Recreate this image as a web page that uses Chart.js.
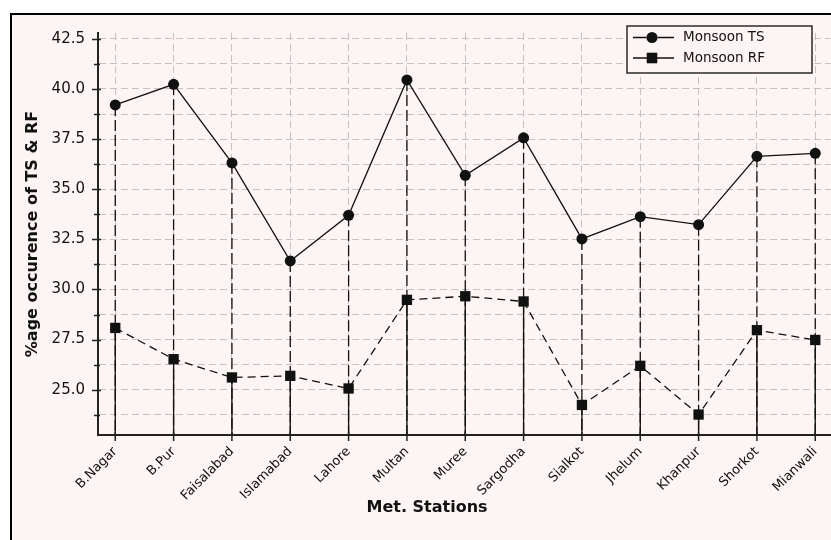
<!DOCTYPE html>
<html>
<head>
<meta charset="utf-8">
<script src="https://cdn.jsdelivr.net/npm/chart.js@4.4.1/dist/chart.umd.min.js"></script>
<style>
  html, body { margin: 0; padding: 0; background: #ffffff; }
  canvas { display: block; }
</style>
</head>
<body>
<canvas id="chart" width="831" height="540"></canvas>
<script>
// Meteorological stations along the x axis
const stations = ['B.Nagar', 'B.Pur', 'Faisalabad', 'Islamabad', 'Lahore', 'Multan', 'Muree',
                  'Sargodha', 'Sialkot', 'Jhelum', 'Khanpur', 'Shorkot', 'Mianwali'];

// Percentage occurrence during the monsoon season
const monsoonTS = [39.20, 40.23, 36.31, 31.42, 33.70, 40.45, 35.69, 37.56, 32.52, 33.63, 33.23, 36.64, 36.79];
const monsoonRF = [28.08, 26.52, 25.61, 25.69, 25.06, 29.48, 29.66, 29.40, 24.24, 26.19, 23.76, 27.97, 27.48];

// Y axis ticks: labelled majors and unlabelled minors
const yMajorTicks = [25.0, 27.5, 30.0, 32.5, 35.0, 37.5, 40.0, 42.5];
const yMinorTicks = [23.75, 26.25, 28.75, 31.25, 33.75, 36.25, 38.75, 41.25];

const BG = '#fdf4f4';
const INK = '#111111';
const AXIS = '#222222';
const GRID = '#c6c2c2';
const FONT = 'DejaVu Sans';

// Page background with the framed panel
const framePlugin = {
  id: 'frame',
  beforeDraw(chart) {
    const { ctx, width, height } = chart;
    ctx.save();
    ctx.fillStyle = '#ffffff';
    ctx.fillRect(0, 0, width, height);
    ctx.fillStyle = BG;
    ctx.fillRect(11, 14, width - 11, height - 14);
    ctx.strokeStyle = '#000000';
    ctx.lineWidth = 2;
    ctx.beginPath();
    ctx.moveTo(11, height);
    ctx.lineTo(11, 14);
    ctx.lineTo(width, 14);
    ctx.stroke();
    ctx.restore();
  }
};

// Vertical drop lines from every marker down to the x axis
const dropLinePlugin = {
  id: 'dropLines',
  beforeDatasetsDraw(chart) {
    const { ctx, chartArea } = chart;
    const tsPts = chart.getDatasetMeta(0).data;
    const rfPts = chart.getDatasetMeta(1).data;
    ctx.save();
    ctx.strokeStyle = INK;
    ctx.lineWidth = 1.3;
    ctx.setLineDash([11, 4]);
    tsPts.forEach(p => {
      ctx.beginPath();
      ctx.moveTo(p.x, p.y);
      ctx.lineTo(p.x, chartArea.bottom);
      ctx.stroke();
    });
    ctx.setLineDash([]);
    rfPts.forEach(p => {
      ctx.beginPath();
      ctx.moveTo(p.x, p.y);
      ctx.lineTo(p.x, chartArea.bottom);
      ctx.stroke();
    });
    ctx.restore();
  }
};

// Tick marks crossing the axes, the x-axis title and the legend box
const decorPlugin = {
  id: 'decor',
  afterDraw(chart) {
    const { ctx, chartArea, scales } = chart;
    const xs = scales.x, ys = scales.y;
    ctx.save();
    ctx.strokeStyle = AXIS;
    ctx.lineWidth = 1.5;
    ctx.beginPath();
    yMajorTicks.forEach(v => {
      const y = Math.round(ys.getPixelForValue(v)) + 0.5;
      ctx.moveTo(chartArea.left - 6, y);
      ctx.lineTo(chartArea.left + 3, y);
    });
    yMinorTicks.forEach(v => {
      const y = Math.round(ys.getPixelForValue(v)) + 0.5;
      ctx.moveTo(chartArea.left - 4, y);
      ctx.lineTo(chartArea.left + 2, y);
    });
    stations.forEach((_, i) => {
      const x = xs.getPixelForValue(i);
      ctx.moveTo(x, chartArea.bottom - 3);
      ctx.lineTo(x, chartArea.bottom + 6);
    });
    ctx.stroke();

    // x-axis title
    ctx.fillStyle = INK;
    ctx.font = 'bold 16px "' + FONT + '"';
    ctx.textAlign = 'center';
    ctx.textBaseline = 'middle';
    ctx.fillText('Met. Stations', 427, 508);

    // legend
    const lx = 627, ly = 26, lw = 185, lh = 47;
    ctx.fillStyle = BG;
    ctx.fillRect(lx, ly, lw, lh);
    ctx.strokeStyle = '#2a2a2a';
    ctx.lineWidth = 1.5;
    ctx.strokeRect(lx, ly, lw, lh);
    chart.data.datasets.forEach((ds, i) => {
      const cy = ly + 11.5 + i * 20.5;
      ctx.strokeStyle = INK;
      ctx.lineWidth = 1.3;
      ctx.setLineDash([]);
      ctx.beginPath();
      ctx.moveTo(lx + 6, cy);
      ctx.lineTo(lx + 47, cy);
      ctx.stroke();
      Chart.helpers.drawPoint(ctx, {
        pointStyle: ds.pointStyle, radius: ds.pointRadius, borderWidth: 0, rotation: 0
      }, lx + 25, cy);
      ctx.fillStyle = INK;
      ctx.fill();
      ctx.font = '13.5px "' + FONT + '"';
      ctx.textAlign = 'left';
      ctx.textBaseline = 'middle';
      ctx.fillText(ds.label, lx + 56, cy);
    });
    ctx.restore();
  }
};

const chart = new Chart(document.getElementById('chart'), {
  type: 'line',
  data: {
    datasets: [
      {
        label: 'Monsoon TS',
        data: stations.map((_, i) => ({ x: i, y: monsoonTS[i] })),
        borderColor: INK,
        backgroundColor: INK,
        borderWidth: 1.3,
        pointStyle: 'circle',
        pointRadius: 5.5,
        pointBorderWidth: 0,
        tension: 0
      },
      {
        label: 'Monsoon RF',
        data: stations.map((_, i) => ({ x: i, y: monsoonRF[i] })),
        borderColor: INK,
        backgroundColor: INK,
        borderWidth: 1.3,
        borderDash: [8, 5],
        pointStyle: 'rect',
        pointRadius: 7.3,
        pointBorderWidth: 0,
        tension: 0
      }
    ]
  },
  options: {
    responsive: false,
    animation: false,
    devicePixelRatio: 1,
    layout: { autoPadding: false, padding: { left: 0, top: 33, right: 0, bottom: 0 } },
    plugins: {
      legend: { display: false },
      tooltip: { enabled: false }
    },
    scales: {
      x: {
        type: 'linear',
        min: -0.296,
        max: 12.27,
        afterBuildTicks: s => { s.ticks = stations.map((_, i) => ({ value: i })); },
        afterFit: s => { s.height = 105; s.paddingLeft = 0; s.paddingRight = 0; },
        ticks: {
          autoSkip: false,
          minRotation: 45,
          maxRotation: 45,
          padding: 9,
          color: INK,
          font: { family: FONT, size: 13 },
          callback: v => stations[v]
        },
        grid: { color: GRID, lineWidth: 1, drawTicks: false },
        border: { color: AXIS, width: 2, dash: [7, 4] }
      },
      y: {
        min: 22.74,
        max: 42.79,
        afterBuildTicks: s => {
          s.ticks = yMajorTicks.concat(yMinorTicks).sort((a, b) => a - b).map(v => ({ value: v }));
        },
        afterFit: s => { s.width = 98; },
        ticks: {
          padding: 13,
          color: INK,
          font: { family: FONT, size: 15 },
          callback: v => (yMajorTicks.includes(v) ? v.toFixed(1) : '')
        },
        grid: { color: GRID, lineWidth: 1, drawTicks: false },
        border: { color: AXIS, width: 2, dash: [7, 4] },
        title: {
          display: true,
          text: '%age occurence of TS & RF',
          color: INK,
          font: { family: FONT, size: 16, weight: 'bold' },
          padding: { top: 23, bottom: 0 }
        }
      }
    }
  },
  plugins: [framePlugin, dropLinePlugin, decorPlugin]
});

// Let the plot area run right up to the canvas edge
const gap = chart.width - chart.chartArea.right;
if (gap > 0.5) {
  chart.options.layout.padding.right = -gap;
  chart.update();
}
</script>
</body>
</html>
